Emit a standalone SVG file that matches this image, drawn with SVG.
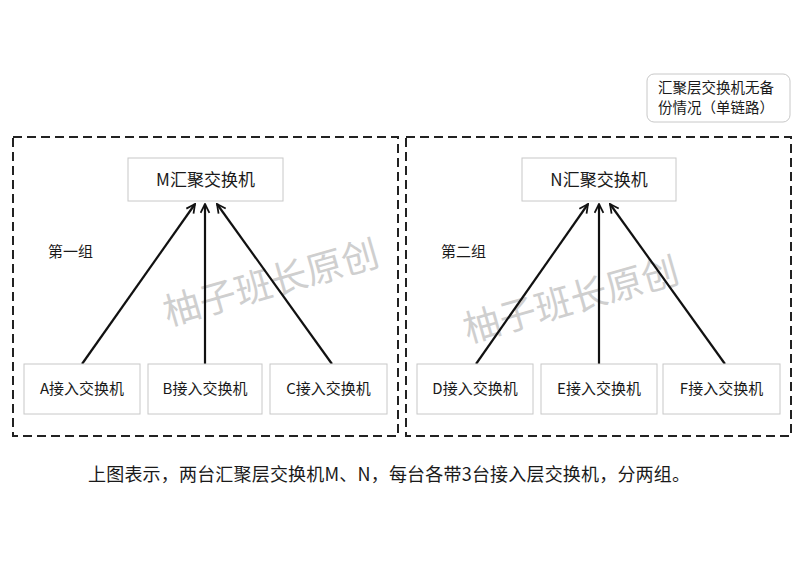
<svg xmlns="http://www.w3.org/2000/svg" width="800" height="566" viewBox="0 0 800 566">
<defs>
<style>
text{font-family:"Microsoft YaHei","Noto Sans CJK SC","Noto Sans",sans-serif;fill:#1a1a1a}
.grp{fill:none;stroke:#222;stroke-width:2;stroke-dasharray:9 5}
.box{fill:#fff;stroke:#c8c8c8;stroke-width:1}
.lbl{font-size:15px;text-anchor:middle}
.top{font-size:17px;text-anchor:middle}
.wm{font-size:37px;fill:#cfcfcf}
.conn{stroke:#111;stroke-width:2.2;fill:none;marker-end:url(#ah)}
</style>
<marker id="ah" viewBox="0 0 10 10" refX="9" refY="5" markerWidth="5" markerHeight="5" orient="auto" markerUnits="strokeWidth">
<path d="M1,1 L9,5 L1,9" fill="none" stroke="#111" stroke-width="1.6"/>
</marker>
</defs>
<rect width="800" height="566" fill="#fff"/>
<g id="group1"><rect class="grp" x="13" y="137" width="385" height="299"/><text x="48" y="257" font-size="15">第一组</text></g>
<g id="group2"><rect class="grp" x="406" y="137" width="385" height="299"/><text x="441" y="257" font-size="15">第二组</text></g>
<text class="wm" transform="translate(168,326) rotate(-16)">柚子班长原创</text>
<text class="wm" transform="translate(468,343) rotate(-16)">柚子班长原创</text>
<g id="connectors">
<line class="conn" x1="82" y1="364" x2="195" y2="204"/>
<line class="conn" x1="205" y1="364" x2="205" y2="204"/>
<line class="conn" x1="332" y1="364" x2="217" y2="204"/>
<line class="conn" x1="476" y1="364" x2="588" y2="204"/>
<line class="conn" x1="599" y1="364" x2="599" y2="204"/>
<line class="conn" x1="725" y1="364" x2="610" y2="204"/>
</g>
<g id="M"><rect class="box" x="128" y="158" width="155" height="43"/><text class="top" x="205.5" y="186">M汇聚交换机</text></g>
<g id="N"><rect class="box" x="522" y="158" width="154" height="43"/><text class="top" x="599" y="186">N汇聚交换机</text></g>
<g id="A"><rect class="box" x="24" y="364" width="116" height="50"/><text class="lbl" x="82" y="394">A接入交换机</text></g>
<g id="B"><rect class="box" x="148" y="364" width="114" height="50"/><text class="lbl" x="205" y="394">B接入交换机</text></g>
<g id="C"><rect class="box" x="270" y="364" width="117" height="50"/><text class="lbl" x="328.5" y="394">C接入交换机</text></g>
<g id="D"><rect class="box" x="417" y="364" width="116" height="50"/><text class="lbl" x="475" y="394">D接入交换机</text></g>
<g id="E"><rect class="box" x="541" y="364" width="116" height="50"/><text class="lbl" x="599" y="394">E接入交换机</text></g>
<g id="F"><rect class="box" x="663" y="364" width="117" height="50"/><text class="lbl" x="721.5" y="394">F接入交换机</text></g>
<g id="note"><rect x="647" y="74" width="143" height="48" rx="7" fill="#fff" stroke="#c8c8c8"/><text x="658" y="93" font-size="14.5">汇聚层交换机无备</text><text x="658" y="113" font-size="14.5">份情况（单链路）</text></g>
<text x="88" y="481" font-size="18" textLength="602" lengthAdjust="spacing">上图表示，两台汇聚层交换机M、N，每台各带3台接入层交换机，分两组。</text>
</svg>
